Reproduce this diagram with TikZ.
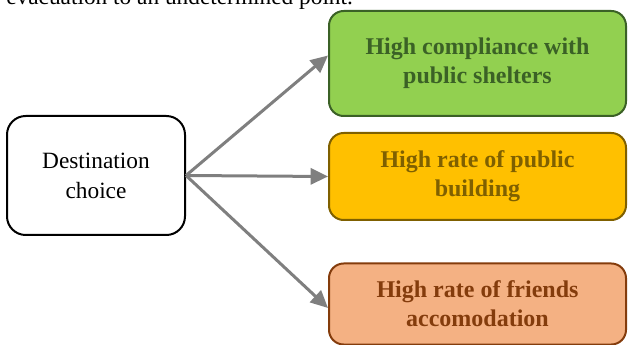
\documentclass[tikz,border=0pt]{standalone}
\usepackage{fontspec}
\setmainfont{Liberation Serif}[BoldFont={Liberation Serif Bold}]
\usepackage{xcolor}
\usetikzlibrary{positioning,arrows.meta}

\definecolor{greenfill}{HTML}{92D050}
\definecolor{greenline}{HTML}{3B6126}
\definecolor{yellowfill}{HTML}{FFC000}
\definecolor{yellowline}{HTML}{7F6000}
\definecolor{orangefill}{HTML}{F4B183}
\definecolor{orangeline}{HTML}{843C0C}
\definecolor{arrowgray}{HTML}{7F7F7F}

\tikzset{
  choice/.style={draw=black,line width=1.5pt,rounded corners=14pt,fill=white,
    minimum width=133.5pt,minimum height=89.25pt,inner sep=0pt,align=center,
    font=\fontsize{17.5}{22.5}\selectfont},
  outcome/.style={line width=1.5pt,rounded corners=11pt,
    minimum width=222.75pt,inner sep=0pt,align=center,
    font=\fontsize{18}{22}\selectfont\bfseries},
  link/.style={draw=arrowgray,line width=2.25pt,-{Triangle[length=13pt,width=12pt]}}
}

\begin{document}
\begin{tikzpicture}[x=0.75pt,y=-0.75pt]
  \useasboundingbox (0,0) rectangle (628,345);
  \clip (0,0) rectangle (628,345);

  % Text line above
  \node [anchor=base west,inner sep=0pt,font=\fontsize{17.5}{20}\selectfont] (txt) at (6,4.5) {evacuation to an undetermined point.};

  % Destination choice
  \node [choice] (dest) at (96,175.5) {Destination\\choice};

  % Public shelters
  \node [outcome,draw=greenline,fill=greenfill,text=greenline,minimum height=78.75pt] (shelter) at (477.5,63.5) {High compliance with\\public shelters};

  % Public building
  \node [outcome,draw=yellowline,fill=yellowfill,text=yellowline,minimum height=65.25pt] (building) at (477.5,176.5) {High rate of public\\building};

  % Friends accomodation
  \node [outcome,draw=orangeline,fill=orangefill,text=orangeline,minimum height=60.75pt] (friends) at (477.5,304) {High rate of friends\\accomodation};

  \draw [link] (dest.east) -- ([yshift=6pt]shelter.west);
  \draw [link] (dest.east) -- (building.west);
  \draw [link] (dest.east) -- ([yshift=-3pt]friends.west);

\end{tikzpicture}
\end{document}
